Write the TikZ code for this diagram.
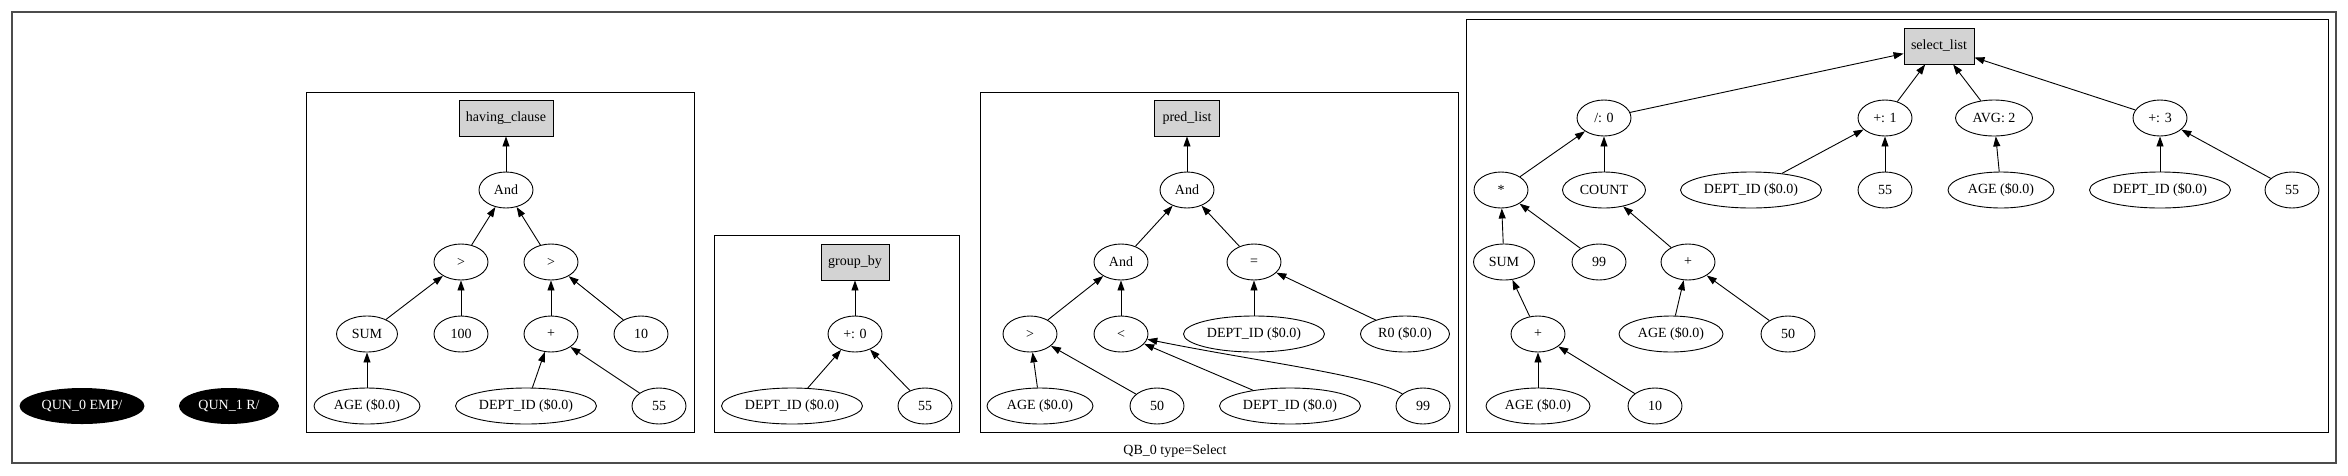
\documentclass[tikz,border=0pt]{standalone}
\usepackage{fontspec}
\setmainfont{Liberation Serif}
\usetikzlibrary{shapes.geometric,arrows.meta}
\definecolor{boxgray}{HTML}{D3D3D3}
\tikzset{
  el/.style={ellipse,draw,line width=0.9pt,inner sep=1pt,minimum height=36pt,minimum width=54pt,font=\fontsize{14}{16}\selectfont},
  bx/.style={rectangle,draw,line width=0.9pt,fill=boxgray,inner sep=1pt,minimum height=36pt,font=\fontsize{14}{16}\selectfont},
  qun/.style={ellipse,fill=black,text=white,inner sep=1pt,minimum height=36pt,font=\fontsize{14}{16}\selectfont},
  arr/.style={-{Triangle[length=10pt,width=7pt]},line width=0.9pt},
  clu/.style={draw,line width=0.9pt},
}
\begin{document}
\begin{tikzpicture}[x=1pt,y=-1pt]
\useasboundingbox (0,0) rectangle (2348,475);
\draw[line width=1.2pt,black!70] (12,12) rectangle (2336,463);
\node[font=\fontsize{14}{16}\selectfont] (qblabel) at (1175,451) {QB\_0 type=Select};
% QUN nodes
\node[qun,minimum width=125pt] (q0) at (82,406) {QUN\_0 EMP/};
\node[qun,minimum width=100pt] (q1) at (229,406) {QUN\_1 R/};
% having cluster
\draw[clu] (306,92) rectangle (694,432);
\node[bx,minimum width=94pt] (hc) at (506,118) {having\_clause};
\node[el] (hAnd) at (506,190) {And};
\node[el] (hg1) at (461,262) {>};
\node[el] (hg2) at (551,262) {>};
\node[el,minimum width=61pt] (hSum) at (367,334) {SUM};
\node[el] (h100) at (461,334) {100};
\node[el] (hPlus) at (551,334) {+};
\node[el] (h10) at (641,334) {10};
\node[el,minimum width=106pt] (hAge) at (367,406) {AGE (\$0.0)};
\node[el,minimum width=141pt] (hDept) at (526,406) {DEPT\_ID (\$0.0)};
\node[el] (h55) at (659,406) {55};
\draw[arr] (hAnd) -- (hc);
\draw[arr] (hg1) -- (hAnd);
\draw[arr] (hg2) -- (hAnd);
\draw[arr] (hSum) -- (hg1);
\draw[arr] (h100) -- (hg1);
\draw[arr] (hPlus) -- (hg2);
\draw[arr] (h10) -- (hg2);
\draw[arr] (hAge) -- (hSum);
\draw[arr] (hDept) -- (hPlus);
\draw[arr] (h55) -- (hPlus);
% group_by cluster
\draw[clu] (714,235) rectangle (959,432);
\node[bx,minimum width=68pt] (gb) at (855,262) {group\_by};
\node[el] (gp) at (855,334) {+: 0};
\node[el,minimum width=141pt] (gDept) at (792,406) {DEPT\_ID (\$0.0)};
\node[el] (g55) at (925,406) {55};
\draw[arr] (gp) -- (gb);
\draw[arr] (gDept) -- (gp);
\draw[arr] (g55) -- (gp);
% pred_list cluster
\draw[clu] (980,92) rectangle (1458,432);
\node[bx,minimum width=65pt] (pl) at (1187,118) {pred\_list};
\node[el] (pAnd) at (1187,190) {And};
\node[el] (pAnd2) at (1121,262) {And};
\node[el] (pEq) at (1254,262) {=};
\node[el] (pGt) at (1030,334) {>};
\node[el] (pLt) at (1121,334) {<};
\node[el,minimum width=141pt] (pDept1) at (1254,334) {DEPT\_ID (\$0.0)};
\node[el,minimum width=89pt] (pR0) at (1405,334) {R0 (\$0.0)};
\node[el,minimum width=106pt] (pAge) at (1040,406) {AGE (\$0.0)};
\node[el] (p50) at (1157,406) {50};
\node[el,minimum width=141pt] (pDept2) at (1290,406) {DEPT\_ID (\$0.0)};
\node[el] (p99) at (1423,406) {99};
\draw[arr] (pAnd) -- (pl);
\draw[arr] (pAnd2) -- (pAnd);
\draw[arr] (pEq) -- (pAnd);
\draw[arr] (pGt) -- (pAnd2);
\draw[arr] (pLt) -- (pAnd2);
\draw[arr] (pDept1) -- (pEq);
\draw[arr] (pR0) -- (pEq);
\draw[arr] (pAge) -- (pGt);
\draw[arr] (p50) -- (pGt);
\draw[arr] (pDept2) -- (pLt);
\draw[arr] (p99) .. controls (1370,375) and (1260,362) .. (pLt);
% select_list cluster
\draw[clu] (1466,19) rectangle (2328,432);
\node[bx,minimum width=70pt] (sl) at (1939,46) {select\_list};
\node[el] (sDiv) at (1604,118) {/: 0};
\node[el] (sP1) at (1885,118) {+: 1};
\node[el,minimum width=77pt] (sAvg) at (1994,118) {AVG: 2};
\node[el] (sP3) at (2160,118) {+: 3};
\node[el] (sMul) at (1501,190) {*};
\node[el,minimum width=83pt] (sCount) at (1604,190) {COUNT};
\node[el,minimum width=141pt] (sDept1) at (1751,190) {DEPT\_ID (\$0.0)};
\node[el] (s55a) at (1885,190) {55};
\node[el,minimum width=106pt] (sAge1) at (2001,190) {AGE (\$0.0)};
\node[el,minimum width=141pt] (sDept2) at (2160,190) {DEPT\_ID (\$0.0)};
\node[el] (s55b) at (2292,190) {55};
\node[el,minimum width=61pt] (sSum) at (1504,262) {SUM};
\node[el] (s99) at (1599,262) {99};
\node[el] (sPlusC) at (1688,262) {+};
\node[el] (sPlusS) at (1538,334) {+};
\node[el,minimum width=104pt] (sAge2) at (1671,334) {AGE (\$0.0)};
\node[el] (s50) at (1788,334) {50};
\node[el,minimum width=104pt] (sAge3) at (1538,406) {AGE (\$0.0)};
\node[el] (s10) at (1655,406) {10};
\draw[arr] (sDiv) -- (sl);
\draw[arr] (sP1) -- (sl);
\draw[arr] (sAvg) -- (sl);
\draw[arr] (sP3) -- (sl);
\draw[arr] (sMul) -- (sDiv);
\draw[arr] (sCount) -- (sDiv);
\draw[arr] (sDept1) -- (sP1);
\draw[arr] (s55a) -- (sP1);
\draw[arr] (sAge1) -- (sAvg);
\draw[arr] (sDept2) -- (sP3);
\draw[arr] (s55b) -- (sP3);
\draw[arr] (sSum) -- (sMul);
\draw[arr] (s99) -- (sMul);
\draw[arr] (sPlusC) -- (sCount);
\draw[arr] (sPlusS) -- (sSum);
\draw[arr] (sAge2) -- (sPlusC);
\draw[arr] (s50) -- (sPlusC);
\draw[arr] (sAge3) -- (sPlusS);
\draw[arr] (s10) -- (sPlusS);
\end{tikzpicture}
\end{document}
